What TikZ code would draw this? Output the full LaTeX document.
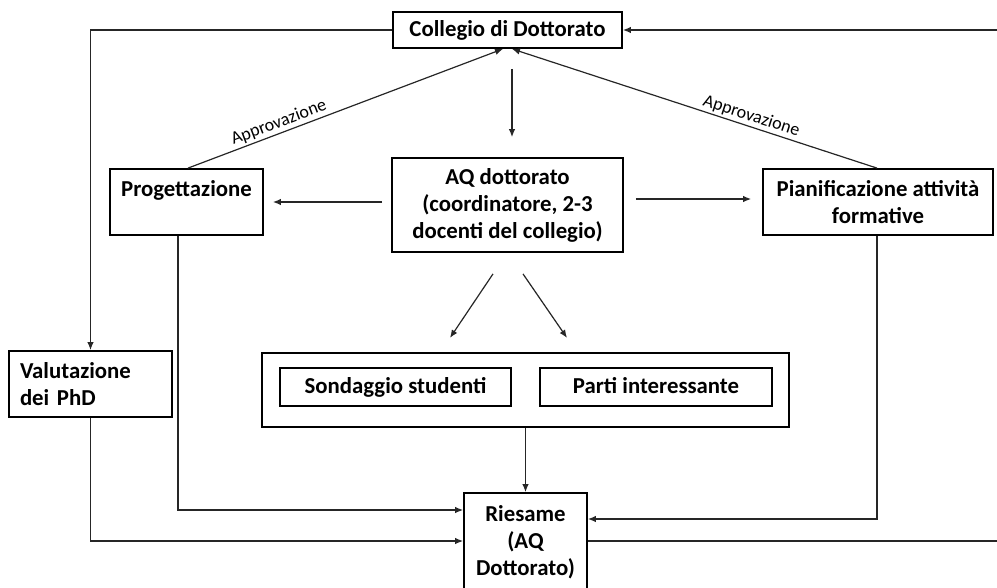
\documentclass[tikz,border=0pt]{standalone}
\usepackage{fontspec}
\setmainfont{Carlito}
\usetikzlibrary{arrows.meta}
\begin{document}
\begin{tikzpicture}[x=1pt,y=-1pt,
  box/.style={draw=black, line width=1.8pt, inner sep=0pt, align=center,
    font=\bfseries\fontsize{22.8}{27}\selectfont},
  one/.style={text height=17pt, text depth=4pt},
  conn/.style={draw=black!85, line width=1.2pt},
  arr/.style={conn, -{Latex[length=8pt,width=6.5pt]}},
  lab/.style={font=\fontsize{18}{21}\selectfont, inner sep=2pt}]
\useasboundingbox (0,0) rectangle (997,587);

\node[box, one, minimum width=229, minimum height=36] (col) at (507.5,30) {Collegio di Dottorato};
\node[box, minimum width=231, minimum height=94] (aq) at (507.5,205) {AQ dottorato\\(coordinatore, 2-3\\docenti del collegio)};
\node[box, minimum width=153, minimum height=66] (prog) at (186.5,202) {Progettazione\\\mbox{}};
\node[box, minimum width=230, minimum height=66] (pian) at (878,202) {Pianificazione attività\\formative};
\node[box, minimum width=163, minimum height=66, align=left, text width=141pt] (val) at (90.5,384) {Valutazione\\dei PhD};
\node[box, minimum width=527, minimum height=74] (out) at (525.5,390) {};
\node[box, one, minimum width=231, minimum height=38] (son) at (395.5,387) {Sondaggio studenti};
\node[box, one, minimum width=232, minimum height=38] (par) at (656,387) {Parti interessante};
\node[box, minimum width=123, minimum height=98] (ries) at (525.5,542) {Riesame\\(AQ\\Dottorato)};
\coordinate (rc) at (1006,541);

% top connections
\draw[arr] (col.west) -| (val.north);
\draw[arr, shorten <=20pt, shorten >=20pt] ([xshift=4.5pt]col.south) -- ([xshift=4.5pt]col.south |- aq.north);
\draw[arr] ([xshift=1.5pt]prog.north) -- ([xshift=-4.5pt]col.south)
  node[lab, pos=0.3, above, sloped] {Approvazione};
\draw[conn, {Latex[length=8pt,width=6.5pt]}-] ([xshift=4.5pt]col.south) -- ([xshift=-1pt]pian.north)
  node[lab, pos=0.647, above, sloped] {Approvazione};

% AQ outputs
\draw[arr, shorten <=9pt, shorten >=9pt] (aq.west |- prog.east) -- (prog.east);
\draw[arr, shorten <=12pt, shorten >=11pt] ([yshift=3pt]aq.east |- pian.west) -- ([yshift=3pt]pian.west);
\draw[arr] ([shift={(-14.5,21)}]aq.south) -- ([shift={(-57.5,85)}]aq.south);
\draw[arr] ([shift={(15.5,21)}]aq.south) -- ([shift={(59.5,85)}]aq.south);

% to Riesame
\draw[arr] (out.south) -- (out.south |- ries.north);
\draw[arr] ([xshift=-8.5pt]prog.south) |- ([yshift=32pt]ries.west);
\draw[arr] (val.south) |- ([yshift=1pt]ries.west);
\draw[arr] ([xshift=-1pt]pian.south) |- ([yshift=23pt]ries.east);
\draw[arr] ([yshift=1pt]ries.east) -- (rc) |- (col.east);
\end{tikzpicture}
\end{document}
